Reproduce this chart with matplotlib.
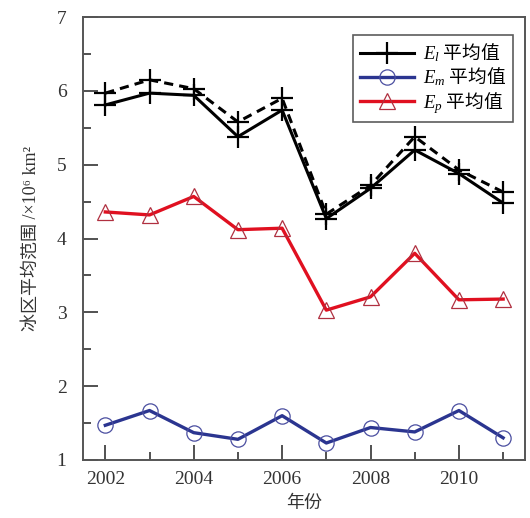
import matplotlib
matplotlib.use("Agg")
import matplotlib.pyplot as plt
from matplotlib.ticker import MultipleLocator

plt.rcParams['font.family'] = ['Liberation Serif', 'Noto Sans CJK SC']
plt.rcParams['mathtext.fontset'] = 'custom'
plt.rcParams['mathtext.rm'] = 'Liberation Serif'
plt.rcParams['mathtext.it'] = 'Liberation Serif:italic'
plt.rcParams['mathtext.bf'] = 'Liberation Serif:bold'

years = [2002, 2003, 2004, 2005, 2006, 2007, 2008, 2009, 2010, 2011]
el_mean = [5.81, 5.97, 5.94, 5.38, 5.74, 4.27, 4.68, 5.20, 4.88, 4.48]
el_mean_alt = [5.97, 6.15, 6.03, 5.58, 5.90, 4.33, 4.72, 5.38, 4.93, 4.63]
em_mean = [1.47, 1.67, 1.37, 1.28, 1.60, 1.23, 1.44, 1.38, 1.67, 1.30]
ep_mean = [4.36, 4.32, 4.57, 4.12, 4.14, 3.03, 3.21, 3.80, 3.17, 3.18]

labels = [r'$E_l$ 平均值', r'$E_m$ 平均值', r'$E_p$ 平均值']
ylabel = '冰区平均范围 /×10\u2076 km\u00b2'

fig = plt.figure(figsize=(5.30, 5.18), dpi=100)
ax = fig.add_axes([0.157, 0.112, 0.834, 0.855])

ax.plot(years, el_mean_alt, color='black', lw=2.2, ls=(0, (3, 2)),
        marker='+', ms=16, mew=1.6)
ax.plot(years, el_mean, color='black', lw=2.2, marker='+', ms=16, mew=1.6,
        label=labels[0])
ax.plot(years, em_mean, color='#2b3590', lw=2.4, marker='o', ms=11,
        mfc='none', mec='#4a4ea0', mew=0.9, label=labels[1])
ax.plot(years, ep_mean, color='#e01020', lw=2.4, marker='^', ms=11,
        mfc='none', mec='#b03040', mew=0.9, label=labels[2])

ax.set_xlim(2001.5, 2011.5)
ax.set_ylim(1, 7)
ax.xaxis.set_major_locator(MultipleLocator(2))
ax.xaxis.set_minor_locator(MultipleLocator(1))
ax.yaxis.set_major_locator(MultipleLocator(1))
ax.yaxis.set_minor_locator(MultipleLocator(0.5))
ax.tick_params(which='both', direction='in', top=False, right=False,
               labelsize=14, colors='#333333', width=1.2)
ax.tick_params(which='major', length=11)
ax.tick_params(axis='y', which='major', pad=12)
ax.tick_params(axis='x', which='major', pad=8)
ax.tick_params(which='minor', length=6)
for s in ax.spines.values():
    s.set_color('#555555')
    s.set_linewidth(1.4)

ax.set_xlabel('年份', fontsize=13, color='#333333', labelpad=5)
ax.set_ylabel(ylabel, fontsize=13, color='#333333', labelpad=12)

leg = ax.legend(loc='upper right', bbox_to_anchor=(0.973, 0.96),
                borderaxespad=0,
                prop={'family': ['Noto Sans CJK SC'], 'size': 13.5},
                frameon=True, fancybox=False, edgecolor='#333333',
                handlelength=2.9, borderpad=0.35, labelspacing=0.08,
                handletextpad=0.5)
leg.get_frame().set_linewidth(1.2)

fig.savefig('out.png', dpi=100)
